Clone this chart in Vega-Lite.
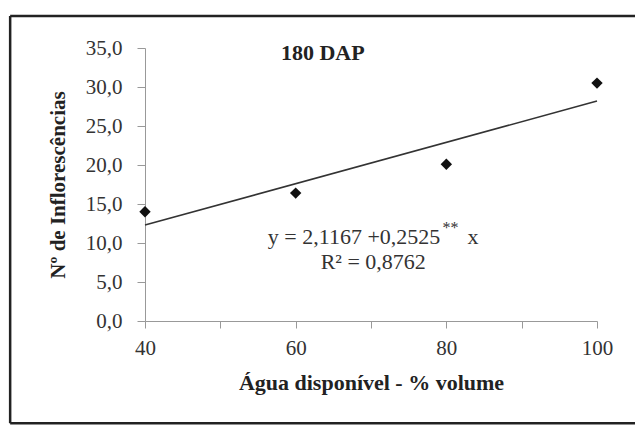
{
  "$schema": "https://vega.github.io/schema/vega-lite/v6.json",
  "autosize": {"type": "none"},
  "width": 452,
  "height": 273,
  "padding": {"left": 145, "top": 48, "right": 38, "bottom": 104},
  "background": "#ffffff",
  "config": {
    "view": {"stroke": null},
    "font": "Liberation Serif",
    "axisY": {"labelOverlap": false, "labelFlush": false, "tickCount": 8},
    "axisX": {"labelOverlap": false, "labelFlush": false}
  },
  "datasets": {
    "pontos": [
      {"agua": 40, "inflo": 14.0},
      {"agua": 60, "inflo": 16.4},
      {"agua": 80, "inflo": 20.1},
      {"agua": 100, "inflo": 30.5}
    ],
    "tendencia": [
      {"agua": 40, "inflo": 12.3},
      {"agua": 100, "inflo": 28.2}
    ]
  },
  "layer": [
    {
      "data": {"name": "pontos"},
      "mark": {"type": "point", "shape": "diamond", "filled": true, "color": "#111111", "size": 130, "opacity": 1},
      "encoding": {
        "x": {
          "field": "agua", "type": "quantitative",
          "scale": {"domain": [40, 100], "nice": false, "zero": false},
          "axis": {
            "title": "Água disponível - % volume",
            "values": [40, 50, 60, 70, 80, 90, 100],
            "labelExpr": "datum.value % 20 == 0 ? datum.label : ''",
            "grid": false,
            "domainColor": "#999999",
            "tickColor": "#999999",
            "tickSize": 7,
            "labelFont": "Liberation Serif",
            "labelFontSize": 21,
            "labelColor": "#333333",
            "labelPadding": 9,
            "titleFont": "Liberation Serif",
            "titleFontSize": 22,
            "titleFontWeight": "bold",
            "titleColor": "#222222",
            "titlePadding": 14
          }
        },
        "y": {
          "field": "inflo", "type": "quantitative",
          "scale": {"domain": [0, 35], "nice": false},
          "axis": {
            "title": "Nº de Inflorescências",
            "values": [0, 5, 10, 15, 20, 25, 30, 35],
            "format": ".1f",
            "labelExpr": "replace(datum.label, '.', ',')",
            "grid": false,
            "domainColor": "#999999",
            "tickColor": "#999999",
            "tickSize": 8,
            "labelFont": "Liberation Serif",
            "labelFontSize": 21,
            "labelColor": "#333333",
            "labelPadding": 15,
            "titleFont": "Liberation Serif",
            "titleFontSize": 21,
            "titleFontWeight": "bold",
            "titleColor": "#222222",
            "titlePadding": 17
          }
        }
      }
    },
    {
      "data": {"name": "tendencia"},
      "mark": {"type": "line", "color": "#333333", "strokeWidth": 1.6},
      "encoding": {
        "x": {"field": "agua", "type": "quantitative"},
        "y": {"field": "inflo", "type": "quantitative"}
      }
    },
    {
      "data": {"values": [{"lado": "topo"}]},
      "mark": {"type": "rule", "color": "#222222", "strokeWidth": 2.5, "clip": false},
      "encoding": {"x": {"datum": 22.1}, "x2": {"datum": 110}, "y": {"datum": 39.1}}
    },
    {
      "data": {"values": [{"lado": "esquerda"}]},
      "mark": {"type": "rule", "color": "#222222", "strokeWidth": 2.5, "clip": false},
      "encoding": {"x": {"datum": 22.1}, "y": {"datum": -13.1}, "y2": {"datum": 39.1}}
    },
    {
      "data": {"values": [{"lado": "base"}]},
      "mark": {"type": "rule", "color": "#222222", "strokeWidth": 2.5, "clip": false},
      "encoding": {"x": {"datum": 22.1}, "x2": {"datum": 110}, "y": {"datum": -13.1}}
    },
    {
      "data": {"values": [{"t": "180 DAP"}]},
      "mark": {"type": "text", "font": "Liberation Serif", "fontSize": 22, "fontWeight": "bold", "color": "#222222", "align": "center", "baseline": "middle"},
      "encoding": {"text": {"field": "t"}, "x": {"datum": 63.6}, "y": {"datum": 34.3}}
    },
    {
      "data": {"values": [{"t": "y = 2,1167 +0,2525"}]},
      "mark": {"type": "text", "font": "Liberation Serif", "fontSize": 22, "color": "#333333", "align": "right", "baseline": "middle"},
      "encoding": {"text": {"field": "t"}, "x": {"datum": 79.2}, "y": {"datum": 10.8}}
    },
    {
      "data": {"values": [{"t": "**"}]},
      "mark": {"type": "text", "font": "Liberation Serif", "fontSize": 16, "color": "#333333", "align": "left", "baseline": "middle"},
      "encoding": {"text": {"field": "t"}, "x": {"datum": 79.5}, "y": {"datum": 11.9}}
    },
    {
      "data": {"values": [{"t": "x"}]},
      "mark": {"type": "text", "font": "Liberation Serif", "fontSize": 22, "color": "#333333", "align": "left", "baseline": "middle"},
      "encoding": {"text": {"field": "t"}, "x": {"datum": 82.8}, "y": {"datum": 10.8}}
    },
    {
      "data": {"values": [{"t": "R² = 0,8762"}]},
      "mark": {"type": "text", "font": "Liberation Serif", "fontSize": 22, "color": "#333333", "align": "center", "baseline": "middle"},
      "encoding": {"text": {"field": "t"}, "x": {"datum": 70.3}, "y": {"datum": 7.6}}
    }
  ]
}
